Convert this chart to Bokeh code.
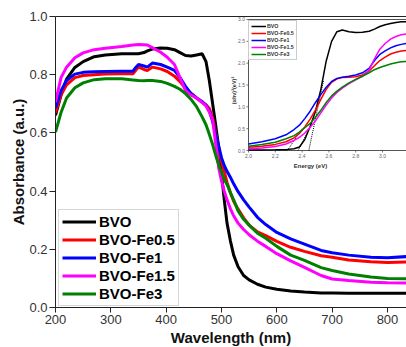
import math
from bokeh.plotting import figure
from bokeh.models import (Range1d, LinearAxis, FixedTicker, Legend, LegendItem, Title,
                          PrintfTickFormatter)
from bokeh.core.properties import value
from bokeh.embed import file_html
from bokeh.resources import INLINE

# ---------------- data (main panel) ----------------
wavelength = [200, 210, 220, 235, 250, 270, 290, 320, 340, 345, 350, 360, 366, 375, 390,
              402, 415, 425, 435, 445, 455, 465, 472, 478, 484, 490, 495, 500, 505, 510,
              516, 522, 530, 540, 550, 565, 580, 600, 625, 650, 680, 700, 730, 770, 800, 835]
bvo = [0.66, 0.73, 0.785, 0.825, 0.845, 0.862, 0.868, 0.872, 0.872, 0.872, 0.872, 0.876, 0.882,
       0.888, 0.892, 0.891, 0.886, 0.876, 0.866, 0.864, 0.868, 0.872, 0.845, 0.78, 0.70, 0.62,
       0.55, 0.46, 0.37, 0.29, 0.23, 0.18, 0.14, 0.11, 0.095, 0.08, 0.07, 0.063, 0.057, 0.053,
       0.05, 0.05, 0.049, 0.049, 0.049, 0.049]
fe05 = [0.67, 0.73, 0.765, 0.79, 0.797, 0.80, 0.802, 0.803, 0.803, 0.815, 0.826, 0.818, 0.814,
        0.826, 0.82, 0.811, 0.795, 0.776, 0.752, 0.736, 0.72, 0.705, 0.697, 0.684, 0.65, 0.595,
        0.54, 0.50, 0.468, 0.43, 0.395, 0.365, 0.338, 0.308, 0.283, 0.26, 0.247, 0.227, 0.207,
        0.193, 0.178, 0.173, 0.163, 0.157, 0.155, 0.156]
fe1 = [0.685, 0.745, 0.78, 0.802, 0.808, 0.81, 0.811, 0.812, 0.812, 0.825, 0.835, 0.83, 0.826,
       0.84, 0.835, 0.826, 0.815, 0.79, 0.76, 0.735, 0.72, 0.708, 0.695, 0.675, 0.64, 0.59,
       0.555, 0.515, 0.488, 0.468, 0.448, 0.425, 0.398, 0.37, 0.345, 0.31, 0.285, 0.258, 0.236,
       0.218, 0.196, 0.188, 0.18, 0.173, 0.171, 0.175]
fe15 = [0.706, 0.79, 0.826, 0.858, 0.875, 0.886, 0.891, 0.897, 0.902, 0.903, 0.904, 0.903, 0.902,
        0.893, 0.877, 0.86, 0.835, 0.79, 0.745, 0.73, 0.72, 0.705, 0.693, 0.672, 0.645, 0.555,
        0.48, 0.435, 0.40, 0.37, 0.34, 0.315, 0.29, 0.268, 0.25, 0.228, 0.21, 0.185, 0.16, 0.138,
        0.11, 0.098, 0.093, 0.087, 0.085, 0.084]
fe3 = [0.603, 0.67, 0.72, 0.755, 0.772, 0.783, 0.786, 0.786, 0.782, 0.781, 0.78, 0.779, 0.78,
       0.78, 0.777, 0.77, 0.76, 0.75, 0.735, 0.715, 0.69, 0.655, 0.628, 0.595, 0.56, 0.52, 0.49,
       0.465, 0.44, 0.423, 0.395, 0.37, 0.332, 0.303, 0.283, 0.255, 0.238, 0.21, 0.18, 0.162,
       0.137, 0.127, 0.115, 0.105, 0.10, 0.099]

series_labels = ["BVO", "BVO-Fe0.5", "BVO-Fe1", "BVO-Fe1.5", "BVO-Fe3"]
x_ticks = [200, 300, 400, 500, 600, 700, 800]
y_ticks = [0.0, 0.2, 0.4, 0.6, 0.8, 1.0]

# ---------------- data (inset: Tauc plot) ----------------
energy = [2.0, 2.1, 2.2, 2.28, 2.34, 2.38, 2.42, 2.46, 2.50, 2.54, 2.58, 2.62, 2.66, 2.70,
          2.75, 2.80, 2.85, 2.90, 2.94, 2.98, 3.02, 3.06, 3.10, 3.14, 3.18]
tauc_bvo = [0.01, 0.01, 0.015, 0.02, 0.04, 0.08, 0.25, 0.55, 0.9, 1.4, 2.05, 2.5, 2.72, 2.76,
            2.72, 2.70, 2.71, 2.73, 2.78, 2.84, 2.88, 2.91, 2.93, 2.95, 2.95]
tauc_fe05 = [0.075, 0.1, 0.14, 0.2, 0.29, 0.39, 0.54, 0.72, 0.93, 1.17, 1.40, 1.56, 1.64, 1.67,
             1.68, 1.69, 1.73, 1.82, 1.94, 2.06, 2.14, 2.21, 2.25, 2.28, 2.29]
tauc_fe1 = [0.15, 0.2, 0.27, 0.36, 0.48, 0.58, 0.73, 0.9, 1.1, 1.28, 1.45, 1.58, 1.65, 1.68,
            1.70, 1.73, 1.78, 1.88, 2.06, 2.2, 2.28, 2.35, 2.4, 2.43, 2.45]
tauc_fe15 = [0.04, 0.06, 0.09, 0.15, 0.23, 0.30, 0.40, 0.53, 0.68, 0.86, 1.04, 1.2, 1.33, 1.43,
             1.53, 1.62, 1.70, 1.84, 2.1, 2.32, 2.45, 2.55, 2.61, 2.65, 2.67]
tauc_fe3 = [0.10, 0.14, 0.19, 0.27, 0.34, 0.42, 0.52, 0.62, 0.76, 0.92, 1.1, 1.25, 1.36, 1.45,
            1.55, 1.63, 1.70, 1.78, 1.85, 1.90, 1.94, 1.98, 2.01, 2.03, 2.04]
tangent_e = [[2.45, 2.56], [2.37, 2.47], [2.29, 2.40]]
tangent_v = [[0.0, 1.6], [0.0, 0.6], [0.0, 0.5]]
inset_x_ticks = [2.0, 2.2, 2.4, 2.6, 2.8, 3.0]
inset_y_ticks = [0.0, 0.5, 1.0, 1.5, 2.0, 2.5, 3.0]

# ---------------- styles / geometry ----------------
colors = ["#000000", "#ff0000", "#0000ff", "#ff00ff", "#008000"]
FONT = "Liberation Sans"
W, H = 406, 347
LEFT, TOP, BOTTOM = 55, 16, 40
FW, FH = W - LEFT, H - TOP - BOTTOM
PX_PER_NM = 0.5533
PX_PER_EV = 134.0
PX_PER_UNIT = 43.67
INSET_LEFT = 248 - LEFT          # px from frame left
INSET_BOTTOM = (TOP + FH) - 150  # px from frame bottom

p = figure(width=W, height=H, output_backend="svg", toolbar_location=None,
           x_range=Range1d(x_ticks[0], x_ticks[0] + FW / PX_PER_NM),
           y_range=Range1d(y_ticks[0], y_ticks[-1]),
           min_border_left=LEFT, min_border_right=0, min_border_top=TOP,
           min_border_bottom=BOTTOM, outline_line_color=None,
           background_fill_color="white", border_fill_color="white")
p.xgrid.grid_line_color = None
p.ygrid.grid_line_color = None

for ax in (p.xaxis[0], p.yaxis[0]):
    ax.axis_line_color = "#222222"
    ax.major_tick_line_color = "#222222"
    ax.major_tick_in = 0
    ax.minor_tick_in = 0
    ax.minor_tick_out = 0
    ax.major_label_text_font = FONT
    ax.major_label_text_font_size = "13px"
    ax.major_label_text_color = "#333333"
p.xaxis[0].ticker = FixedTicker(ticks=x_ticks)
p.yaxis[0].ticker = FixedTicker(ticks=y_ticks)
p.yaxis[0].formatter = PrintfTickFormatter(format="%.1f")
p.xaxis[0].major_tick_out = 5
p.xaxis[0].major_label_standoff = 2
p.yaxis[0].major_tick_out = 6
p.yaxis[0].major_label_standoff = 2

top_axis = LinearAxis(ticker=FixedTicker(ticks=[]), major_label_text_font_size="0px",
                      major_tick_out=0, major_tick_in=0, minor_tick_out=0, minor_tick_in=0,
                      axis_line_color="#222222", major_label_standoff=0)
p.add_layout(top_axis, "above")

p.add_layout(Title(text="Wavelength (nm)", align="center", offset=-19, text_font=FONT,
                   text_font_style="bold", text_font_size="15px", standoff=0,
                   text_color="#111111"), "below")
p.add_layout(Title(text="Absorbance (a.u.)", align="center", offset=20, text_font=FONT,
                   text_font_style="bold", text_font_size="15px", standoff=0,
                   text_color="#111111"), "left")

main_series = [bvo, fe05, fe1, fe15, fe3]
main_renderers = []
for ys, c in zip(main_series, colors):
    main_renderers.append(p.line(wavelength, ys, line_color=c, line_width=3))

legend = Legend(items=[LegendItem(label=l, renderers=[r]) for l, r in zip(series_labels, main_renderers)],
                location=(3, 1), label_text_font=FONT, label_text_font_style="bold",
                label_text_font_size="15px", label_text_color="#000000",
                glyph_width=34, glyph_height=15, label_height=15, label_standoff=3,
                spacing=1, padding=3, margin=0, border_line_color="#b0b0b0",
                border_line_width=1, background_fill_color="white", background_fill_alpha=1.0)
p.add_layout(legend, "center")

# ---------------- inset via extra ranges ----------------
e_start = inset_x_ticks[0] - INSET_LEFT / PX_PER_EV
v_start = inset_y_ticks[0] - INSET_BOTTOM / PX_PER_UNIT
p.extra_x_ranges = {"e": Range1d(e_start, e_start + FW / PX_PER_EV)}
p.extra_y_ranges = {"v": Range1d(v_start, v_start + FH / PX_PER_UNIT)}
RN = dict(x_range_name="e", y_range_name="v")

p.quad(left=inset_x_ticks[0], right=inset_x_ticks[-1] + 1.0, bottom=inset_y_ticks[0],
       top=inset_y_ticks[-1], fill_color="white", line_color="#555555", line_width=1, **RN)

tick_e = 2.0 / PX_PER_EV
tick_v = 2.0 / PX_PER_UNIT
p.segment(x0=inset_x_ticks, y0=[inset_y_ticks[0]] * len(inset_x_ticks), x1=inset_x_ticks,
          y1=[inset_y_ticks[0] - tick_v] * len(inset_x_ticks), line_color="#555555",
          line_width=0.8, **RN)
p.segment(x0=[inset_x_ticks[0]] * len(inset_y_ticks), y0=inset_y_ticks,
          x1=[inset_x_ticks[0] - tick_e] * len(inset_y_ticks), y1=inset_y_ticks,
          line_color="#555555", line_width=0.8, **RN)
p.text(x=inset_x_ticks, y=[inset_y_ticks[0] - 3.5 / PX_PER_UNIT] * len(inset_x_ticks),
       text=["%.1f" % t for t in inset_x_ticks], text_font=value(FONT),
       text_font_size=value("5px"), text_color="#666666", text_align="center",
       text_baseline="top", **RN)
p.text(x=[inset_x_ticks[0] - 3.5 / PX_PER_EV] * len(inset_y_ticks), y=inset_y_ticks,
       text=["%.1f" % t for t in inset_y_ticks], text_font=value(FONT),
       text_font_size=value("5px"), text_color="#666666", text_align="right",
       text_baseline="middle", **RN)
p.text(x=[inset_x_ticks[0] + 62 / PX_PER_EV], y=[inset_y_ticks[0] - 15 / PX_PER_UNIT],
       text=["Energy (eV)"], text_font=value(FONT), text_font_style="bold",
       text_font_size=value("6px"), text_color="#333333", text_align="center",
       text_baseline="middle", **RN)
p.text(x=[inset_x_ticks[0] - 15 / PX_PER_EV], y=[inset_y_ticks[0] + 60 / PX_PER_UNIT],
       text=["(αhν)²(eV)²"], angle=math.pi / 2, text_font=value(FONT),
       text_font_style="bold", text_font_size=value("5.5px"), text_color="#333333",
       text_align="center", text_baseline="middle", **RN)

p.multi_line(xs=tangent_e, ys=tangent_v, line_color="#000000", line_width=1,
             line_dash="1 1", **RN)

inset_series = [tauc_bvo, tauc_fe05, tauc_fe1, tauc_fe15, tauc_fe3]
inset_renderers = []
for ys, c in zip(inset_series, colors):
    inset_renderers.append(p.line(energy, ys, line_color=c, line_width=1.5, **RN))

inset_legend = Legend(items=[LegendItem(label=l, renderers=[r]) for l, r in zip(series_labels, inset_renderers)],
                      location=(INSET_LEFT, INSET_BOTTOM + 90), label_text_font=FONT,
                      label_text_font_style="bold", label_text_font_size="5.3px",
                      label_text_color="#333333", glyph_width=15, glyph_height=6,
                      label_height=6, label_standoff=1, spacing=1, padding=2, margin=0,
                      border_line_color="#999999", border_line_width=0.8,
                      background_fill_color="white", background_fill_alpha=1.0)
p.add_layout(inset_legend, "center")

open("out.html", "w").write(file_html(p, INLINE))
